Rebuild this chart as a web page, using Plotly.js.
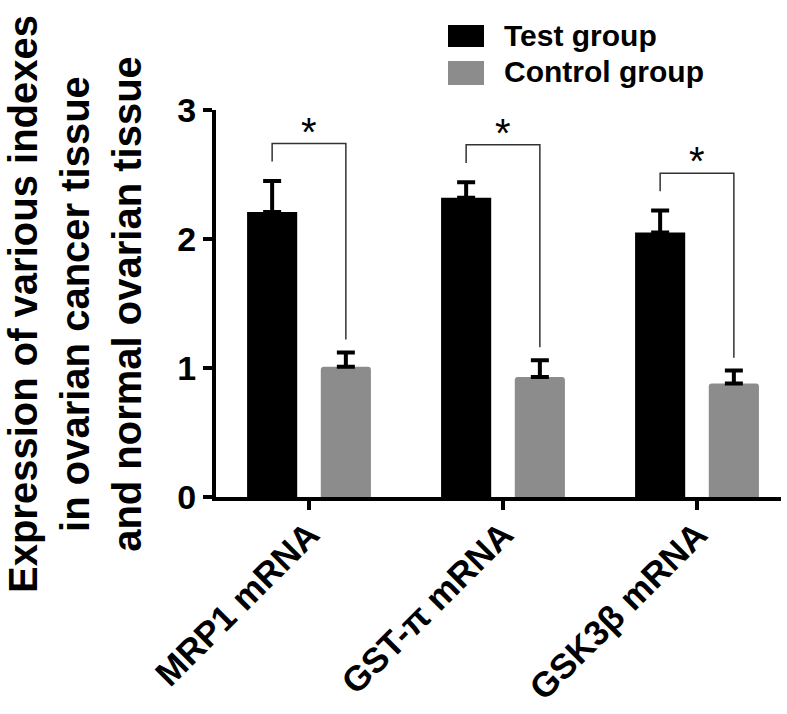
<!DOCTYPE html>
<html>
<head>
<meta charset="utf-8">
<script src="https://cdn.plot.ly/plotly-3.0.1.min.js"></script>
<style>html,body{margin:0;padding:0;background:#fff;}#chart{width:787px;height:714px;}</style>
</head>
<body>
<div id="chart"></div>
<script>
const categories = ['MRP1 mRNA', 'GST-\u03c0 mRNA', 'GSK3\u03b2 mRNA'];
const testMeans = [2.21, 2.32, 2.05];
const testErr = [0.24, 0.12, 0.17];
const controlMeans = [1.01, 0.93, 0.88];
const controlErr = [0.11, 0.13, 0.10];
const seriesNames = ['Test group', 'Control group'];
const yTicks = [0, 1, 2, 3];
const sigLabels = ['*', '*', '*'];

const FONT = 'Liberation Sans, Arial, Helvetica, sans-serif';
const xIdx = categories.map((_, i) => i);
const half = 0.19;

const testTrace = {
  type: 'bar', x: xIdx, y: testMeans, name: seriesNames[0],
  marker: {color: '#000000'},
  error_y: {type: 'data', array: testErr, symmetric: false, arrayminus: testErr.map(() => 0),
            color: '#000', thickness: 4, width: 9},
  showlegend: false, hoverinfo: 'skip'
};
const controlTrace = {
  type: 'bar', x: xIdx, y: controlMeans, name: seriesNames[1],
  marker: {color: '#8c8c8c', cornerradius: 3},
  error_y: {type: 'data', array: controlErr, symmetric: false, arrayminus: controlErr.map(() => 0),
            color: '#000', thickness: 4, width: 9},
  showlegend: false, hoverinfo: 'skip'
};

// significance brackets derived from the data
const bx = [], by = [];
const annotations = [];
categories.forEach((c, i) => {
  const tTop = testMeans[i] + testErr[i];
  const cTop = controlMeans[i] + controlErr[i];
  const leftBottom = tTop + 0.15;
  const top = leftBottom + 0.14;
  const rightBottom = cTop + 0.1;
  bx.push(i - half, i - half, i + half, i + half, null);
  by.push(leftBottom, top, top, rightBottom, null);
  annotations.push({x: i, y: top, xref: 'x', yref: 'y', text: sigLabels[i], showarrow: false,
    yanchor: 'middle', yshift: 12, font: {family: FONT, size: 40, color: '#000'}});
});
const bracketTrace = {type: 'scatter', mode: 'lines', x: bx, y: by,
  line: {color: '#333', width: 1.5}, showlegend: false, hoverinfo: 'skip'};

const W = 565, H = 387, L = 216, T = 110;
const px = v => (v - L) / W;
const py = v => (T + H - v) / H;

// y-axis title
annotations.push({xref: 'paper', yref: 'paper', x: px(75), y: py(304), xanchor: 'center', yanchor: 'middle',
  textangle: -90, showarrow: false,
  text: 'Expression of various indexes<br>in ovarian cancer tissue<br>and normal ovarian tissue',
  font: {family: FONT, size: 40, color: '#000', weight: 'bold'}});

// custom legend
const shapes = [
  {type: 'rect', xref: 'paper', yref: 'paper', x0: px(448), x1: px(484), y0: py(47), y1: py(25),
   fillcolor: '#000', line: {width: 0}},
  {type: 'rect', xref: 'paper', yref: 'paper', x0: px(448), x1: px(484), y0: py(85), y1: py(61),
   fillcolor: '#8c8c8c', line: {width: 0}}
];
annotations.push({xref: 'paper', yref: 'paper', x: px(502), y: py(36), xanchor: 'left', yanchor: 'middle',
  showarrow: false, text: seriesNames[0], font: {family: FONT, size: 30, color: '#000', weight: 'bold'}});
annotations.push({xref: 'paper', yref: 'paper', x: px(502), y: py(72), xanchor: 'left', yanchor: 'middle',
  showarrow: false, text: seriesNames[1], font: {family: FONT, size: 30, color: '#000', weight: 'bold'}});

const layout = {
  width: 787, height: 714,
  margin: {l: L, r: 787 - L - W, t: T, b: 714 - T - H},
  paper_bgcolor: '#fff', plot_bgcolor: '#fff',
  barmode: 'group', bargap: 0.24, bargroupgap: 0.32,
  showlegend: false,
  xaxis: {
    range: [-93 / 194, 472 / 194], tickvals: xIdx, ticktext: categories, tickangle: -45,
    showgrid: false, zeroline: false, showline: true, linecolor: '#000', linewidth: 4,
    ticks: 'outside', ticklen: 9, tickwidth: 4, tickcolor: '#000', ticklabelstandoff: -10,
    tickfont: {family: FONT, size: 35, color: '#000', weight: 'bold'}
  },
  yaxis: {
    range: [0, 3], tickvals: yTicks, ticktext: yTicks.map(String),
    showgrid: false, zeroline: false, showline: true, linecolor: '#000', linewidth: 4,
    ticks: 'outside', ticklen: 9, tickwidth: 4, tickcolor: '#000',
    tickfont: {family: FONT, size: 34, color: '#000', weight: 'bold'}
  },
  annotations: annotations,
  shapes: shapes
};

Plotly.newPlot('chart', [testTrace, controlTrace, bracketTrace], layout, {displayModeBar: false, staticPlot: true});
</script>
</body>
</html>
